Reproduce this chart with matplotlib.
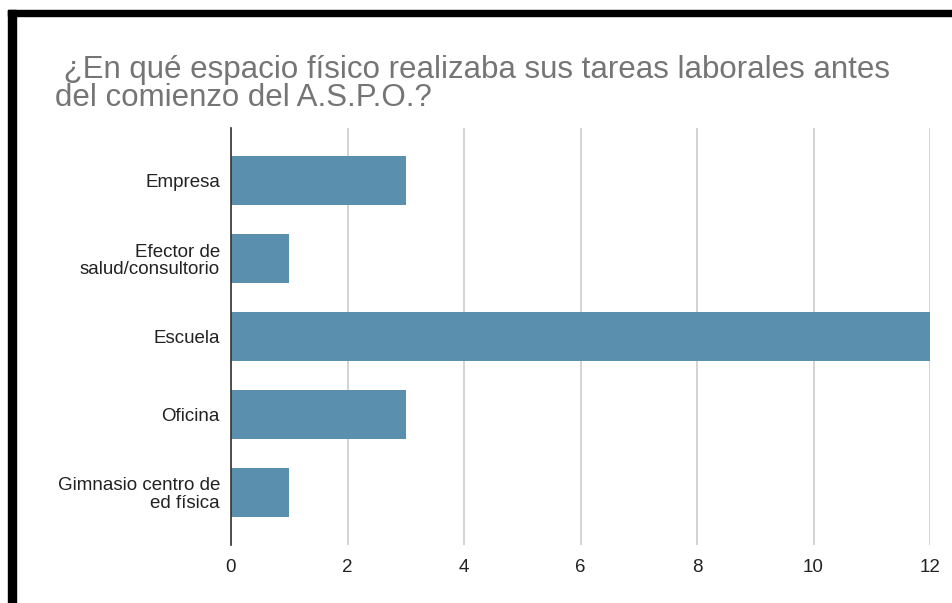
import matplotlib
matplotlib.use("Agg")
import matplotlib.pyplot as plt
from matplotlib.patches import Rectangle

categories = ["Empresa", "Efector de\nsalud/consultorio", "Escuela", "Oficina", "Gimnasio centro de\ned física"]
counts = [3, 1, 12, 3, 1]
xticks = [0, 2, 4, 6, 8, 10, 12]
title = " ¿En qué espacio físico realizaba sus tareas laborales antes\ndel comienzo del A.S.P.O.?"

plt.rcParams['font.family'] = ['Liberation Sans', 'DejaVu Sans']

W, H = 952, 603
fig = plt.figure(figsize=(W / 100, H / 100), dpi=100)
ax = fig.add_axes([231 / W, 1 - 545 / H, (930 - 231) / W, (545 - 128) / H])

ypos = list(range(len(categories)))
ax.barh(ypos, counts, height=0.63, color="#5a8fad", zorder=3)

ax.set_xlim(0, 12)
ax.set_ylim(len(categories) - 1 + 0.68, -0.68)
ax.set_xticks(xticks)
ax.set_xticklabels([str(t) for t in xticks], fontsize=13.5, color="#222222")
ax.set_yticks(ypos)
ax.set_yticklabels(categories, fontsize=13.5, color="#222222", linespacing=1.05)
ax.tick_params(axis="y", length=0, pad=8)
ax.tick_params(axis="x", length=0, pad=10)

ax.grid(axis="x", color="#cccccc", linewidth=1.2, zorder=0)
for s in ["top", "right", "bottom"]:
    ax.spines[s].set_visible(False)
ax.spines["left"].set_color("#333333")
ax.spines["left"].set_linewidth(1.2)
ax.spines["left"].set_zorder(4)

fig.text(55 / W, 1 - 106 / H, title, fontsize=22.5, color="#757575",
         ha="left", va="baseline", linespacing=0.92)

# black frame from the screenshot (top and left only)
fig.patches.append(Rectangle((8 / W, 1 - 16 / H), 1, 6 / H, transform=fig.transFigure,
                             color="black", zorder=10))
fig.patches.append(Rectangle((8 / W, 0), 8 / W, 1 - 10 / H, transform=fig.transFigure,
                             color="black", zorder=10))

fig.savefig("out.png", dpi=100)
